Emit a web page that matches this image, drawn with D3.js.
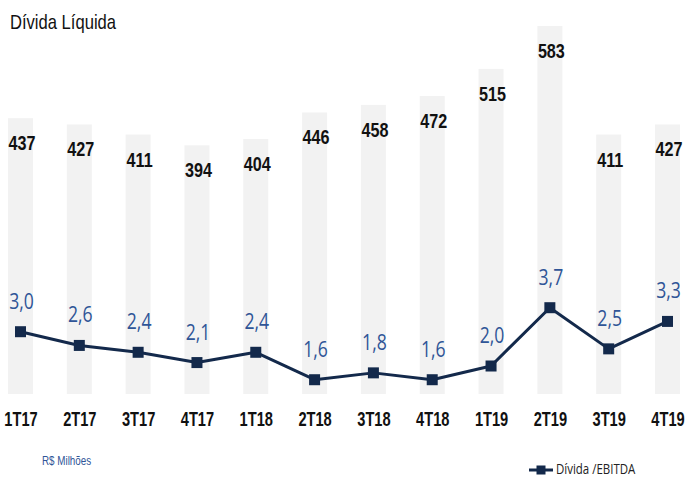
<!DOCTYPE html>
<html>
<head>
<meta charset="utf-8">
<script src="https://cdn.jsdelivr.net/npm/d3@7"></script>
<style>
  html, body { margin: 0; padding: 0; background: #fff; }
  svg { display: block; }
</style>
</head>
<body>
<svg id="chart" width="685" height="477"></svg>
<script>
const categories = ["1T17","2T17","3T17","4T17","1T18","2T18","3T18","4T18","1T19","2T19","3T19","4T19"];
const dividaLiquida = [437, 427, 411, 394, 404, 446, 458, 472, 515, 583, 411, 427];
const dividaEbitda = [3.0, 2.6, 2.4, 2.1, 2.4, 1.6, 1.8, 1.6, 2.0, 3.7, 2.5, 3.3];
const titleText = "Dívida Líquida";
const unitText = "R$ Milhões";
const legendText = "Dívida /EBITDA";

const svg = d3.select("#chart");
const sans = "'Liberation Sans', Arial, sans-serif";
const soft = "'Open Sans', 'Noto Sans', sans-serif";
const navy = "#13294b";
const blue = "#2f5597";

const x = d3.scalePoint().domain(categories).range([20.5, 667.5]);
const yBar = d3.scaleLinear().domain([0, 583]).range([394, 26]);
const yLine = d3.scaleLinear().domain([0, 3.7]).range([434.6, 307.7]);
const barW = 25;

// title
svg.append("text").attr("transform", "translate(10,29) scale(0.83,1)")
  .style("font-family", sans).style("font-size", "20px").attr("fill", "#111")
  .text(titleText);

// bars
svg.append("g").selectAll("rect").data(dividaLiquida).join("rect")
  .attr("x", (d, i) => x(categories[i]) - barW / 2)
  .attr("y", d => yBar(d))
  .attr("width", barW)
  .attr("height", d => yBar(0) - yBar(d))
  .attr("fill", "#f2f2f2");

// bar labels
svg.append("g").selectAll("text").data(dividaLiquida).join("text")
  .attr("transform", (d, i) => `translate(${x(categories[i]) + 1.5},${yBar(d) + 32}) scale(0.77,1)`)
  .attr("text-anchor", "middle")
  .style("font-family", sans).style("font-weight", "bold").style("font-size", "21px")
  .attr("fill", "#111")
  .text(d => d);

// x axis labels
const xAxis = d3.axisBottom(x).tickSize(0).tickPadding(0);
const gx = svg.append("g").attr("transform", "translate(0,412)").call(xAxis);
gx.select(".domain").remove();
gx.selectAll(".tick text")
  .attr("y", 0).attr("dy", "13.7px")
  .attr("transform", "scale(0.75,1)")
  .style("font-family", sans).style("font-weight", "bold").style("font-size", "19.5px")
  .attr("fill", "#111");

// line
const line = d3.line().x((d, i) => x(categories[i])).y(d => yLine(d));
svg.append("path").datum(dividaEbitda)
  .attr("d", line).attr("fill", "none")
  .attr("stroke", navy).attr("stroke-width", 3).attr("stroke-linejoin", "round");

const ms = 11;
svg.append("g").selectAll("rect").data(dividaEbitda).join("rect")
  .attr("x", (d, i) => x(categories[i]) - ms / 2)
  .attr("y", d => yLine(d) - ms / 2)
  .attr("width", ms).attr("height", ms)
  .attr("fill", navy);

// line labels
const fmt = v => v.toFixed(1).replace(".", ",");
svg.append("g").selectAll("text").data(dividaEbitda).join("text")
  .attr("transform", (d, i) => `translate(${x(categories[i]) + 1},${yLine(d) - 23}) scale(0.8,1)`)
  .attr("text-anchor", "middle")
  .style("font-family", soft).style("font-size", "22px").style("font-weight", 500)
  .attr("fill", blue)
  .text(d => fmt(d));

// unit note
svg.append("text").attr("transform", "translate(42,465) scale(0.82,1)")
  .style("font-family", sans).style("font-size", "12px").attr("fill", blue)
  .text(unitText);

// legend
const lg = svg.append("g");
lg.append("line").attr("x1", 529).attr("x2", 553).attr("y1", 470).attr("y2", 470)
  .attr("stroke", navy).attr("stroke-width", 3);
lg.append("rect").attr("x", 541 - 4.5).attr("y", 470 - 4.5).attr("width", 9).attr("height", 9)
  .attr("fill", navy);
lg.append("text").attr("transform", "translate(556,474) scale(0.82,1)")
  .style("font-family", soft).style("font-size", "14px").attr("fill", "#222")
  .text(legendText);
</script>
</body>
</html>
